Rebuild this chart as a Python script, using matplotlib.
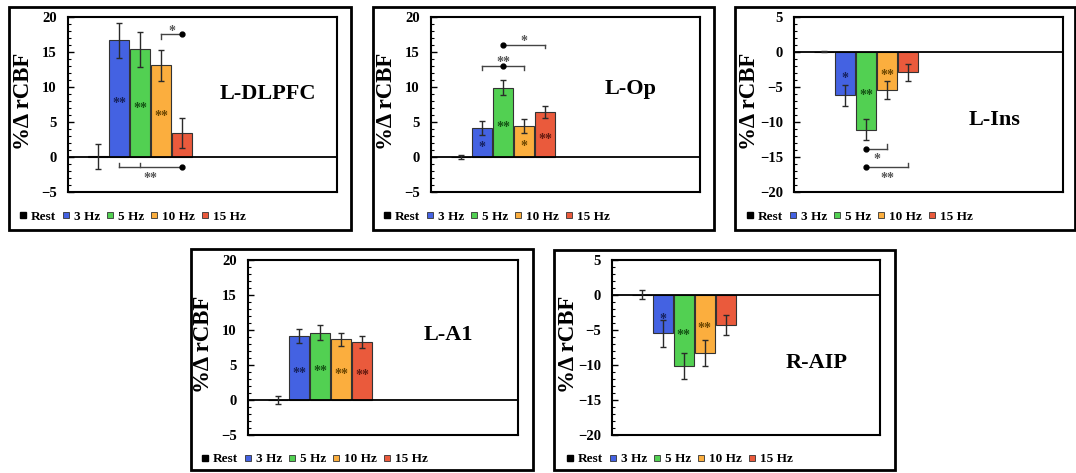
import matplotlib as mplt
mplt.use('Agg')
import numpy as np
import matplotlib.pyplot as plt
from matplotlib.lines import Line2D
from matplotlib.patches import Rectangle

plt.rcParams['font.family'] = ['Liberation Serif', 'DejaVu Serif']
plt.rcParams['font.weight'] = 'bold'

conditions = ['Rest', '3 Hz', '5 Hz', '10 Hz', '15 Hz']
bar_colours = ['#000000', '#4462E2', '#52D052', '#FBAE3E', '#EA5A3C']
star_colours = ['#000000', '#16215c', '#145214', '#6b4500', '#641a10']

# mean %change in rCBF and error per region
dlpfc_mean = [0.1, 16.7, 15.4, 13.1, 3.4]
dlpfc_err = [1.8, 2.5, 2.5, 2.2, 2.1]
dlpfc_stars = ['', '**', '**', '**', '']

op_mean = [0.0, 4.1, 9.9, 4.4, 6.4]
op_err = [0.3, 1.0, 1.05, 1.0, 0.85]
op_stars = ['', '*', '**', '*', '**']

ins_mean = [0.05, -6.2, -11.1, -5.4, -2.9]
ins_err = [0.1, 1.45, 1.5, 1.25, 1.25]
ins_stars = ['', '*', '**', '**', '']

a1_mean = [0.0, 9.1, 9.6, 8.7, 8.3]
a1_err = [0.6, 1.0, 1.05, 0.93, 0.8]
a1_stars = ['', '**', '**', '**', '**']

aip_mean = [0.05, -5.5, -10.2, -8.3, -4.3]
aip_err = [0.67, 1.9, 1.87, 1.82, 1.41]
aip_stars = ['', '*', '**', '**', '']

# pairwise comparisons: (from, to, y, tick positions, tick length, dot position, label, label y)
dlpfc_pairs = [(1, 4, -1.5, [1, 2], 0.6, 4, '**', -2.6),
               (3, 4, 17.5, [3], -0.7, 4, '*', 18.4)]
op_pairs = [(1, 3, 12.95, [1, 3], -0.5, 2, '**', 14.0),
            (2, 4, 16.05, [4], -0.55, 2, '*', 17.0)]
ins_pairs = [(2, 3, -13.8, [3], 0.65, 2, '*', -14.9),
             (2, 4, -16.5, [4], 0.65, 2, '**', -17.6)]

# figure pixel geometry (1076 x 473)
W, H = 1076, 473


def px_rect(l, r, t, b):
    return [l / W, 1 - b / H, (r - l) / W, (b - t) / H]


def draw_panel(fig, axes_px, frame_px, legend_px, means, errs, stars, pairs,
               ylim, name, name_pos):
    # outer frame
    l, r, t, b = frame_px
    fig.patches.append(Rectangle((l / W, 1 - b / H), (r - l) / W, (b - t) / H,
                                 transform=fig.transFigure, fill=False,
                                 lw=2.0, ec='black', zorder=0))

    ax = fig.add_axes(px_rect(*axes_px))
    x = np.arange(len(conditions))
    ax.bar(x, means, width=0.95, color=bar_colours, edgecolor='#333333',
           linewidth=0.8, zorder=2)
    ax.errorbar(x, means, yerr=errs, fmt='none', ecolor='#2a2a2a',
                elinewidth=1.0, capsize=2.5, capthick=1.0, zorder=4)
    ax.axhline(0, color='black', lw=1.3, zorder=3)

    for i, s in enumerate(stars):
        if s:
            ax.text(x[i], means[i] / 2 - 0.7, s, ha='center', va='center',
                    fontsize=10, color=star_colours[i], zorder=5)

    for (x0, x1, y, ticks, tlen, dot, lab, ly) in pairs:
        ax.plot([x0, x1], [y, y], color='#444444', lw=1.0, zorder=5)
        for tk in ticks:
            ax.plot([tk, tk], [y, y + tlen], color='#444444', lw=1.0, zorder=5)
        ax.plot([dot], [y], 'o', color='black', ms=3.5, zorder=6)
        ax.text((x0 + x1) / 2, ly - 0.5, lab, ha='center', va='center',
                fontsize=10, color='#555555', zorder=6)

    ax.set_xlim(-1.43, 11.38)
    ax.set_ylim(*ylim)
    ax.set_xticks([])
    ax.set_yticks(np.arange(ylim[0], ylim[1] + 1, 5))
    ax.set_yticks(np.arange(ylim[0], ylim[1] + 1, 1), minor=True)
    ax.tick_params('y', which='major', direction='in', length=4, width=1,
                   labelsize=10.5, pad=8)
    ax.tick_params('y', which='minor', direction='in', length=2.5, width=0.8)
    for lbl in ax.get_yticklabels():
        lbl.set_fontweight('bold')
    for sp in ax.spines.values():
        sp.set_linewidth(1.5)

    ax.set_ylabel('%Δ rCBF', fontsize=16.5, fontweight='bold')
    ax.yaxis.set_label_coords(-0.125, 0.52)

    ax.text(name_pos[0], name_pos[1], name, transform=ax.transAxes,
            ha='center', va='baseline', fontsize=16, fontweight='bold')

    handles = [Line2D([], [], ls='none', marker='s', ms=4.5, mfc=bar_colours[0],
                      mec=bar_colours[0])]
    for c in bar_colours[1:]:
        handles.append(Line2D([], [], ls='none', marker='s', ms=4.5, mfc=c,
                              mec='#333333', mew=0.6))
    ax.legend(handles, conditions, loc='center left', ncol=5, frameon=False,
              bbox_to_anchor=(legend_px[0] / W, 1 - legend_px[1] / H),
              bbox_transform=fig.transFigure, borderaxespad=0, borderpad=0,
              handlelength=0.6, handletextpad=0.3, columnspacing=0.45,
              prop={'size': 9.5, 'weight': 'bold'})
    return ax


fig = plt.figure(figsize=(W / 100, H / 100), dpi=100)

draw_panel(fig, (68, 337, 17, 192), (9, 351, 7, 230), (19, 217),
           dlpfc_mean, dlpfc_err, dlpfc_stars, dlpfc_pairs, (-5, 20),
           'L-DLPFC', (0.742, 0.531))
draw_panel(fig, (431, 700, 17, 192), (373, 714, 7, 230), (383, 217),
           op_mean, op_err, op_stars, op_pairs, (-5, 20),
           'L-Op', (0.743, 0.56))
draw_panel(fig, (794, 1063, 17, 192), (735, 1075, 7, 230), (746, 217),
           ins_mean, ins_err, ins_stars, ins_pairs, (-20, 5),
           'L-Ins', (0.747, 0.383))
draw_panel(fig, (248, 518, 260, 435), (191, 533, 249, 470), (201, 459),
           a1_mean, a1_err, a1_stars, [], (-5, 20),
           'L-A1', (0.741, 0.543))
draw_panel(fig, (612, 880, 260, 435), (554, 895, 250, 470), (566, 459),
           aip_mean, aip_err, aip_stars, [], (-20, 5),
           'R-AIP', (0.765, 0.383))

fig.savefig('out.png', dpi=100)
